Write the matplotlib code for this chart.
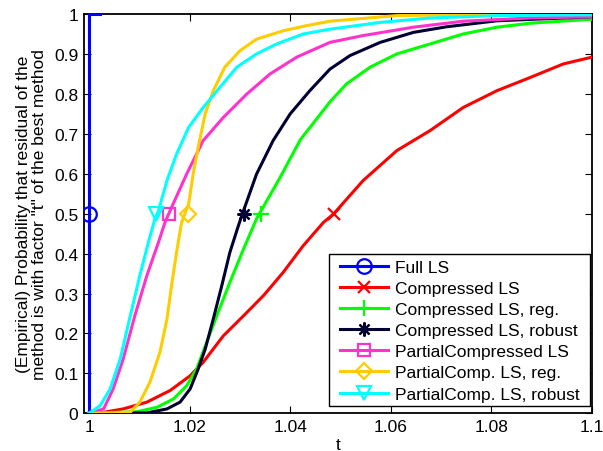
import numpy as np
import matplotlib
matplotlib.use("Agg")
import matplotlib.pyplot as plt
from matplotlib.patches import Rectangle

plt.rcParams["font.family"] = ["Liberation Sans", "DejaVu Sans"]
plt.rcParams["font.size"] = 12.5

# performance profile curves (t, probability)
full_t = [1.0, 1.0, 1.0022]
full_p = [0.0, 1.0, 1.0]

comp_t = [1.0, 1.0022, 1.0068, 1.0115, 1.0161, 1.0201, 1.0227, 1.0267, 1.0307,
          1.0347, 1.0386, 1.0426, 1.0466, 1.0486, 1.0545, 1.0612, 1.0678,
          1.0744, 1.0811, 1.0877, 1.0943, 1.1]
comp_p = [0.0, 0.001, 0.011, 0.028, 0.057, 0.094, 0.128, 0.194, 0.244,
          0.295, 0.353, 0.420, 0.478, 0.499, 0.583, 0.658, 0.708,
          0.766, 0.808, 0.841, 0.875, 0.892]

reg_t = [1.0, 1.0095, 1.0135, 1.0168, 1.0194, 1.0214, 1.0234, 1.0254, 1.028,
         1.0307, 1.0333, 1.038, 1.042, 1.0453, 1.0479, 1.0512, 1.0559, 1.0612,
         1.0678, 1.0744, 1.0811, 1.0877, 1.1]
reg_p = [0.0, 0.004, 0.015, 0.036, 0.069, 0.111, 0.178, 0.244, 0.328,
         0.411, 0.487, 0.591, 0.685, 0.738, 0.780, 0.825, 0.867, 0.900,
         0.925, 0.950, 0.967, 0.977, 0.987]

rob_t = [1.0, 1.0115, 1.0155, 1.0181, 1.0201, 1.0217, 1.0231, 1.0247, 1.0264,
         1.028, 1.0297, 1.0307, 1.0333, 1.0366, 1.04, 1.0439, 1.0479, 1.0519,
         1.0579, 1.0645, 1.0711, 1.0811, 1.1]
rob_p = [0.0, 0.001, 0.011, 0.028, 0.061, 0.111, 0.161, 0.236, 0.320,
         0.403, 0.470, 0.507, 0.599, 0.683, 0.750, 0.808, 0.862, 0.896,
         0.929, 0.954, 0.968, 0.983, 0.993]

pc_t = [1.0, 1.0029, 1.0048, 1.0068, 1.0091, 1.0115, 1.0138, 1.0151, 1.0161,
        1.0194, 1.0227, 1.0267, 1.0314, 1.036, 1.0413, 1.0479, 1.0545, 1.0645,
        1.0744, 1.0877, 1.1]
pc_p = [0.0, 0.011, 0.061, 0.136, 0.244, 0.345, 0.428, 0.478, 0.507,
        0.599, 0.683, 0.741, 0.800, 0.850, 0.892, 0.929, 0.946, 0.967,
        0.982, 0.990, 0.993]

pcreg_t = [1.0, 1.0082, 1.0101, 1.0121, 1.0141, 1.0155, 1.0164, 1.0174, 1.0184,
           1.0198, 1.0207, 1.0217, 1.0231, 1.0247, 1.027, 1.03, 1.0333, 1.0386,
           1.0433, 1.0479, 1.0612, 1.08, 1.1]
pcreg_p = [0.0, 0.003, 0.028, 0.078, 0.153, 0.236, 0.320, 0.403, 0.478,
           0.524, 0.599, 0.666, 0.750, 0.808, 0.867, 0.908, 0.937, 0.958,
           0.971, 0.982, 0.996, 0.999, 1.0]

pcrob_t = [1.0, 1.0022, 1.0042, 1.0062, 1.0082, 1.0101, 1.0118, 1.0131, 1.0138,
           1.0155, 1.0174, 1.0198, 1.0227, 1.026, 1.0294, 1.0333, 1.0373, 1.0426,
           1.0479, 1.0579, 1.0678, 1.0811, 1.1]
pcrob_p = [0.0, 0.019, 0.061, 0.136, 0.244, 0.345, 0.428, 0.487, 0.507,
           0.583, 0.649, 0.716, 0.766, 0.816, 0.867, 0.900, 0.925, 0.950,
           0.962, 0.979, 0.990, 0.996, 0.998]

# where each curve carries its marker (at probability 0.5)
marker_t = [1.0, 1.0488, 1.0342, 1.0308, 1.0158, 1.0196, 1.0134]

labels = ["Full LS", "Compressed LS", "Compressed LS, reg.",
          "Compressed LS, robust", "PartialCompressed LS",
          "PartialComp. LS, reg.", "PartialComp. LS, robust"]
colors = ["#0000ff", "#ff0000", "#00ff00", "#000033", "#ff33cc", "#ffcc00", "#00ffff"]
markers = ["o", "x", "+", (8, 2, 0), "s", "D", "v"]
msizes = [10.5, 9, 11, 10, 8.5, 8, 9.5]

curves = [(full_t, full_p), (comp_t, comp_p), (reg_t, reg_p), (rob_t, rob_p),
          (pc_t, pc_p), (pcreg_t, pcreg_p), (pcrob_t, pcrob_p)]

fig = plt.figure(figsize=(6.03, 4.52), dpi=100)
ax = fig.add_axes([0.1393, 0.0834, 0.8425, 0.8834])

for (t, p), mt, lab, c, m, ms in zip(curves, marker_t, labels, colors, markers, msizes):
    ax.plot(t, p, color=c, lw=2.2, zorder=3, solid_joinstyle="round")
    ax.plot([mt], [0.5], color=c, lw=0, marker=m, ms=ms, mfc="none",
            mec=c, mew=1.6, zorder=3)
    # proxy for the legend (line + marker)
    ax.plot([], [], color=c, lw=2.2, marker=m, ms=ms, mfc="none", mec=c,
            mew=1.6, label=lab)

ax.set_xlim(0.999, 1.1)
ax.set_ylim(0, 1)
ax.set_xticks([1.0, 1.02, 1.04, 1.06, 1.08, 1.1])
ax.set_xticklabels(["1", "1.02", "1.04", "1.06", "1.08", "1.1"])
ax.set_yticks(np.arange(0, 1.01, 0.1))
ax.set_yticklabels(["0", "0.1", "0.2", "0.3", "0.4", "0.5", "0.6", "0.7", "0.8", "0.9", "1"])
ax.tick_params(direction="in", length=5, width=0.8, top=True, right=True, pad=4)
for s in ax.spines.values():
    s.set_linewidth(1.3)

ax.set_xlabel("t", labelpad=2)
ax.set_ylabel('(Empirical) Probability that residual of the\n'
              'method is with factor "t" of the best method', linespacing=1.05)
ax.yaxis.set_label_coords(-0.073, 0.5)

# legend box drawn by hand, entries placed inside it
box = Rectangle((0.482, 0.018), 0.514, 0.381, transform=ax.transAxes,
                facecolor="white", edgecolor="black", lw=1.0, zorder=4.5)
ax.add_patch(box)
leg = ax.legend(loc="upper left", bbox_to_anchor=(0.504, 0.385), borderaxespad=0,
                numpoints=1, handlelength=2.76, handletextpad=0.4, labelspacing=0.345,
                borderpad=0, frameon=False, fontsize=12.5)
leg.set_zorder(5)

fig.savefig("out.png", dpi=100)
